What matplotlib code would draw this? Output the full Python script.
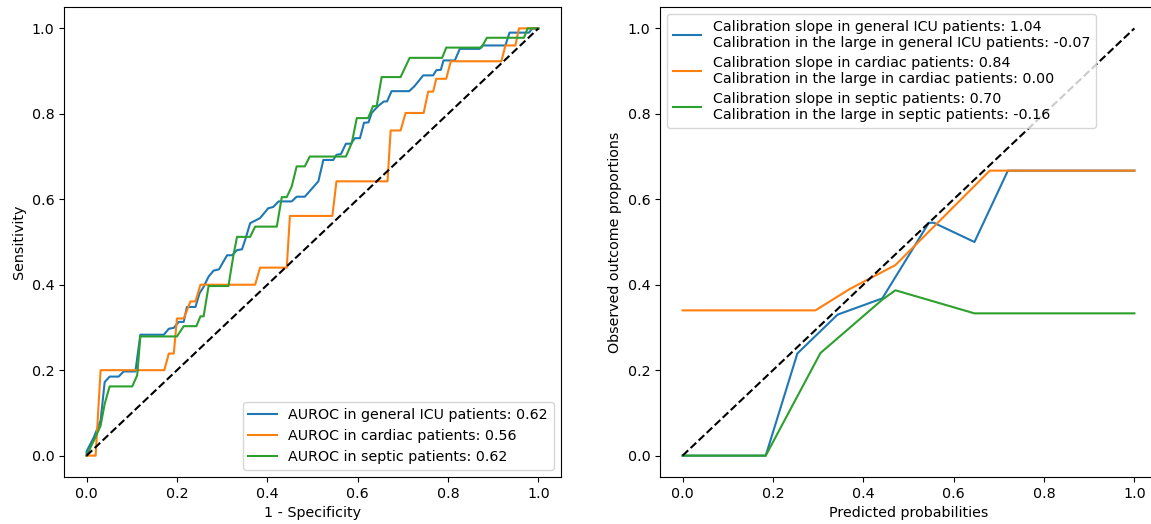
import matplotlib
matplotlib.use('Agg')
from matplotlib import pyplot as plt

# ROC curves
fpr_icu = [0, 0.0, 0.016, 0.031, 0.04, 0.051, 0.071, 0.082, 0.108, 0.119, 0.171, 0.182, 0.193, 0.204,
           0.215, 0.222, 0.241, 0.25, 0.259, 0.27, 0.281, 0.293, 0.311, 0.322, 0.333, 0.344, 0.351,
           0.362, 0.384, 0.402, 0.413, 0.425, 0.454, 0.465, 0.483, 0.513, 0.524, 0.546, 0.553, 0.563,
           0.574, 0.585, 0.594, 0.605, 0.614, 0.624, 0.631, 0.645, 0.658, 0.665, 0.675, 0.714, 0.726,
           0.745, 0.767, 0.774, 0.784, 0.790, 0.815, 0.826, 0.870, 0.876, 0.927, 0.936, 0.979, 0.987, 1.0]
tpr_icu = [0, 0.01, 0.043, 0.082, 0.172, 0.185, 0.185, 0.197, 0.197, 0.283, 0.283, 0.297, 0.299, 0.313,
           0.313, 0.348, 0.348, 0.38, 0.395, 0.419, 0.433, 0.436, 0.469, 0.469, 0.481, 0.483, 0.505,
           0.544, 0.556, 0.579, 0.582, 0.595, 0.595, 0.606, 0.606, 0.642, 0.692, 0.692, 0.704, 0.706,
           0.730, 0.730, 0.743, 0.743, 0.779, 0.780, 0.802, 0.818, 0.829, 0.829, 0.853, 0.853, 0.865,
           0.890, 0.890, 0.902, 0.903, 0.925, 0.925, 0.952, 0.952, 0.960, 0.960, 0.990, 0.990, 1.0, 1.0]

fpr_cardiac = [0, 0.02, 0.031, 0.172, 0.182, 0.193, 0.2, 0.215, 0.23, 0.241, 0.252, 0.373, 0.384, 0.443,
               0.45, 0.544, 0.553, 0.666, 0.673, 0.695, 0.706, 0.746, 0.756, 0.767, 0.774, 0.796, 0.806,
               0.918, 0.927, 0.949, 0.957, 1.0]
tpr_cardiac = [0, 0, 0.2, 0.2, 0.239, 0.239, 0.321, 0.321, 0.361, 0.361, 0.40, 0.40, 0.44, 0.44,
               0.561, 0.561, 0.642, 0.642, 0.761, 0.761, 0.802, 0.802, 0.852, 0.852, 0.882, 0.882, 0.923,
               0.923, 0.96, 0.96, 1.0, 1.0]

fpr_septic = [0, 0.016, 0.031, 0.04, 0.051, 0.101, 0.112, 0.119, 0.2, 0.215, 0.243, 0.252, 0.259, 0.27,
              0.314, 0.325, 0.333, 0.362, 0.373, 0.421, 0.432, 0.443, 0.454, 0.465, 0.483, 0.494, 0.574,
              0.587, 0.598, 0.623, 0.634, 0.642, 0.653, 0.695, 0.715, 0.787, 0.796, 0.874, 0.886, 0.968,
              0.976, 1.0]
tpr_septic = [0, 0.035, 0.070, 0.121, 0.162, 0.162, 0.188, 0.279, 0.279, 0.303, 0.303, 0.326, 0.326, 0.397,
              0.397, 0.469, 0.512, 0.512, 0.536, 0.536, 0.605, 0.605, 0.630, 0.677, 0.677, 0.70, 0.70,
              0.732, 0.790, 0.790, 0.818, 0.818, 0.886, 0.886, 0.931, 0.931, 0.955, 0.955, 0.978, 0.978,
              1.0, 1.0]

roc_labels = ['AUROC in general ICU patients: 0.62',
              'AUROC in cardiac patients: 0.56',
              'AUROC in septic patients: 0.62']

# calibration curves
pred_icu = [0, 0.184, 0.254, 0.343, 0.442, 0.545, 0.556, 0.646, 0.72, 1.0]
obs_icu = [0, 0, 0.239, 0.330, 0.368, 0.545, 0.545, 0.50, 0.667, 0.667]
pred_cardiac = [0, 0.294, 0.37, 0.471, 0.68, 1.0]
obs_cardiac = [0.34, 0.34, 0.39, 0.446, 0.667, 0.667]
pred_septic = [0, 0.184, 0.305, 0.442, 0.471, 0.646, 1.0]
obs_septic = [0, 0, 0.240, 0.365, 0.387, 0.333, 0.333]

cal_labels = ['Calibration slope in general ICU patients: 1.04\n'
              'Calibration in the large in general ICU patients: -0.07',
              'Calibration slope in cardiac patients: 0.84\n'
              'Calibration in the large in cardiac patients: 0.00',
              'Calibration slope in septic patients: 0.70\n'
              'Calibration in the large in septic patients: -0.16']

plt.rcParams.update({'font.size': 10.3})

fig = plt.figure(figsize=(11.51, 5.24), dpi=100)
ax1 = fig.add_axes([64 / 1151, 47 / 524, 497 / 1151, 470 / 524])
ax2 = fig.add_axes([660 / 1151, 47 / 524, 497 / 1151, 470 / 524])

ax1.plot(fpr_icu, tpr_icu, label=roc_labels[0])
ax1.plot(fpr_cardiac, tpr_cardiac, label=roc_labels[1])
ax1.plot(fpr_septic, tpr_septic, label=roc_labels[2])
ax1.plot([0, 1], [0, 1], 'k--')
ax1.set_xlabel('1 - Specificity')
ax1.set_ylabel('Sensitivity')
ax1.legend(loc='lower right')

ax2.plot(pred_icu, obs_icu, color='tab:blue', label=cal_labels[0])
ax2.plot(pred_cardiac, obs_cardiac, color='tab:orange', label=cal_labels[1])
ax2.plot(pred_septic, obs_septic, color='tab:green', label=cal_labels[2])
ax2.plot([0, 1], [0, 1], 'k--')
ax2.legend(loc='upper left', labelspacing=0.4)
ax2.set_xlabel('Predicted probabilities')
ax2.set_ylabel('Observed outcome proportions')

fig.savefig('out.png')
